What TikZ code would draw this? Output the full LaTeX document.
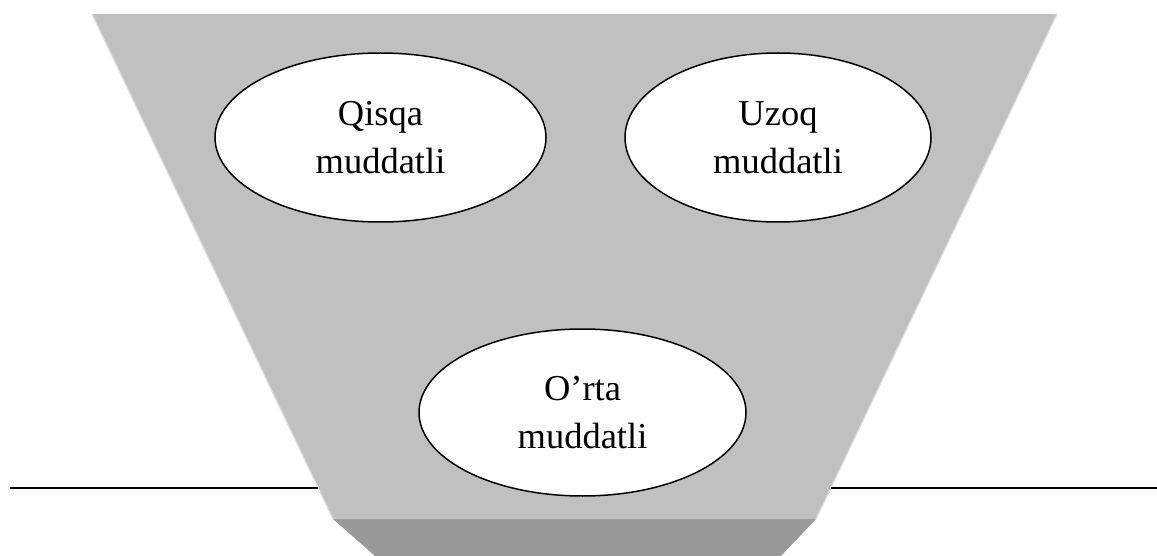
\documentclass[tikz,border=0pt]{standalone}
\usepackage{fontspec}
\setmainfont{Liberation Serif}
\usetikzlibrary{shapes.geometric}
\definecolor{funnellight}{RGB}{192,192,192}
\definecolor{funneldark}{RGB}{153,153,153}
\definecolor{funneledge}{RGB}{222,222,222}
\tikzset{
  term/.style={ellipse, draw=black, line width=1.5pt, fill=white,
    minimum width=331pt, minimum height=169pt, inner sep=0pt,
    align=center, font=\fontsize{36.5}{48}\selectfont},
  baseline rule/.style={line width=2pt, black}
}
\begin{document}
\begin{tikzpicture}[x=1pt, y=-1pt]
\useasboundingbox (0,0) rectangle (1157,556);
% funnel body and its darker neck
\fill[funneldark] (333,519) -- (816,519) -- (781,556) -- (375,556) -- cycle;
\fill[funnellight] (92,14) -- (1057,14) -- (816,519) -- (333,519) -- cycle;
\draw[funneledge, line width=1.2pt] (92,14) -- (333,519);
\draw[funneledge, line width=1.2pt] (1057,14) -- (816,519);
% ground line on both sides of the funnel
\coordinate (gl0) at (10,488);
\coordinate (gl1) at (318,488);
\coordinate (gr0) at (831,488);
\coordinate (gr1) at (1157,488);
\draw[baseline rule] (gl0) -- (gl1);
\draw[baseline rule] (gr0) -- (gr1);
% terms
\node[term] (short) at (380.5,137.5) {Qisqa\\muddatli};
\node[term, minimum width=306pt] (long) at (778,137.5) {Uzoq\\muddatli};
\node[term, minimum width=327pt, minimum height=167pt] (mid) at (582.5,412.5) {O’rta\\muddatli};
\end{tikzpicture}
\end{document}
